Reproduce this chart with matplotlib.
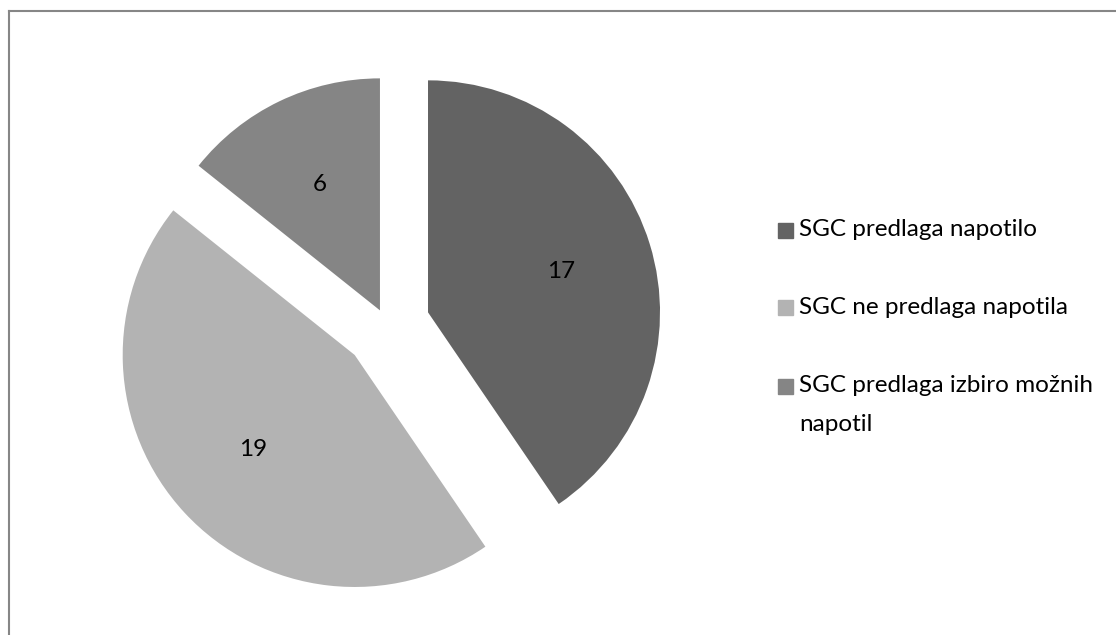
import numpy as np
import matplotlib.pyplot as plt
from matplotlib.lines import Line2D
from matplotlib.patches import Rectangle

plt.rcParams['font.family'] = ['Lato', 'DejaVu Sans']

labels = ["SGC predlaga napotilo", "SGC ne predlaga napotila",
          "SGC predlaga izbiro možnih\nnapotil"]
values = [17, 19, 6]
colors = ["#636363", "#b3b3b3", "#858585"]
explode = [0.185, 0.19, 0.07]

W, H = 1116, 635
fig = plt.figure(figsize=(W / 100, H / 100), dpi=100)

# pie axes: centre at (387, 325) px, radius 232 px
cx, cy, r, half = 387, 325, 232, 300
ax = fig.add_axes([(cx - half) / W, (H - cy - half) / H, 2 * half / W, 2 * half / H])
total = sum(values)
ax.pie(values, colors=colors, explode=explode, startangle=90, counterclock=False,
       autopct=lambda p: f"{round(p * total / 100)}", pctdistance=0.6,
       textprops={'fontsize': 17.5, 'color': 'black'},
       wedgeprops={'linewidth': 0})
lim = half / r
ax.set_xlim(-lim, lim)
ax.set_ylim(-lim, lim)
ax.set_aspect('equal')
ax.axis('off')

# legend drawn by hand so the wrapped label keeps its marker on the first line
ys = [230, 308, 386]
for lab, col, y in zip(labels, colors, ys):
    fig.patches.append(Rectangle((778 / W, 1 - (y + 7.5) / H), 15 / W, 15 / H,
                                 transform=fig.transFigure, color=col))
    fig.text(799 / W, 1 - (y - 11) / H, lab, fontsize=17.5, va='top', ha='left',
             linespacing=2.05)

# chart frame (left and top edges visible)
fig.add_artist(Line2D([8.5 / W, 8.5 / W], [0, 1 - 10.5 / H], color="#868686", lw=1.5))
fig.add_artist(Line2D([8.5 / W, 1], [1 - 10.5 / H, 1 - 10.5 / H], color="#868686", lw=1.5))

fig.savefig("out.png", dpi=100)
